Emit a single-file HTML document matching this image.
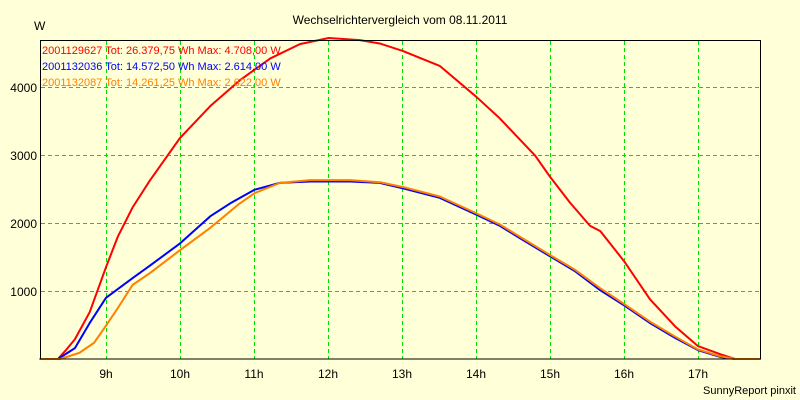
<!DOCTYPE html>
<html><head><meta charset="utf-8"><style>
body{margin:0;background:#ffffd8;}
svg{display:block;font-family:"Liberation Sans",sans-serif;}
</style></head><body>
<svg id="c" width="800" height="400">
<rect x="0" y="0" width="800" height="400" fill="#ffffd8"/>
<text x="400" y="24" font-size="12" text-anchor="middle">Wechselrichtervergleich vom 08.11.2011</text>
<text x="34" y="30" font-size="12">W</text>
<g id="grid"></g>
<g id="series"></g>
<rect x="40.5" y="40.5" width="720" height="318.5" fill="none" stroke="#000" stroke-width="1"/>
<g id="legend" font-size="11"></g>
<text x="796" y="394" font-size="11" text-anchor="end">SunnyReport pinxit</text>
</svg>
<script>
const hourTicks=[9,10,11,12,13,14,15,16,17];
const yTicks=[1000,2000,3000,4000];
const redT=[8.1,8.35,8.45,8.58,8.78,9,9.16,9.36,9.59,10,10.41,10.81,11.22,11.62,12.01,12.43,12.7,13.01,13.51,14.01,14.32,14.8,15,15.27,15.54,15.68,16,16.35,16.69,17,17.3,17.5,17.84];
const redV=[0,0,120,290,690,1350,1800,2230,2620,3250,3720,4100,4420,4630,4720,4690,4640,4530,4310,3850,3540,2990,2680,2300,1960,1880,1440,880,480,190,70,0,0];
const blueT=[8.1,8.35,8.58,8.78,9,9.36,9.59,10,10.41,10.68,11.01,11.35,11.76,12.3,12.7,13.01,13.51,14.01,14.32,14.59,15,15.34,15.68,16,16.35,16.69,17,17.3,17.5,17.84];
const blueV=[0,0,160,530,900,1190,1370,1700,2100,2290,2490,2590,2610,2610,2590,2510,2370,2120,1960,1780,1510,1290,1010,790,530,310,130,30,0,0];
const orangeT=[8.1,8.38,8.64,8.84,9,9.16,9.36,9.59,10,10.41,10.81,11.01,11.35,11.76,12.3,12.7,13.01,13.51,14.01,14.32,14.59,15,15.34,15.68,16,16.35,16.69,17,17.3,17.5,17.84];
const orangeV=[0,0,90,240,490,750,1090,1260,1600,1930,2290,2440,2590,2630,2630,2600,2530,2390,2140,1980,1800,1530,1310,1040,810,550,330,140,40,0,0];
const legendLabels=["2001129627 Tot: 26.379,75 Wh Max: 4.708,00 W","2001132036 Tot: 14.572,50 Wh Max: 2.614,00 W","2001132087 Tot: 14.261,25 Wh Max: 2.622,00 W"];
const NS="http://www.w3.org/2000/svg";
const xs=h=>106+(h-9)*74;
const ys=v=>359-v*0.068;
const grid=document.getElementById('grid');
function mk(tag,attrs,parent){const e=document.createElementNS(NS,tag);for(const k in attrs)e.setAttribute(k,attrs[k]);parent.appendChild(e);return e;}
hourTicks.forEach(h=>{
  const gx=Math.round(xs(h))+0.5;
  const l=mk('line',{x1:gx,x2:gx,y1:41,y2:359,stroke:'#00e000','stroke-dasharray':'4,3'},grid);
  
  
  const t=mk('text',{x:xs(h),y:378,'font-size':12,'text-anchor':'middle'},grid);
  t.textContent=h+'h';
  
  
});
yTicks.forEach(v=>{
  const gy=Math.round(ys(v))+0.5;
  const l=mk('line',{x1:41,x2:760,y1:gy,y2:gy,stroke:'#00e000','stroke-dasharray':'4,3'},grid);
  
  
  const t=mk('text',{x:37,y:ys(v)+5,'font-size':12,'text-anchor':'end'},grid);
  t.textContent=v;
  
  
});
const ser=document.getElementById('series');
function line(T,V,color,name){
  const p=mk('polyline',{points:T.map((t,i)=>xs(t)+','+ys(V[i])).join(' '),fill:'none',stroke:color,'stroke-width':2,'stroke-linejoin':'round'},ser);
  
  
}
line(redT,redV,'#ff0000','series-2001129627');
line(blueT,blueV,'#0000ff','series-2001132036');
line(orangeT,orangeV,'#ff8000','series-2001132087');
const leg=document.getElementById('legend');
const cols=['#ff0000','#0000ff','#ff8000'];
legendLabels.forEach((s,i)=>{
  const t=mk('text',{x:42,y:54+i*16,fill:cols[i]},leg);
  t.textContent=s;
  
  
});
</script>
</body></html>
